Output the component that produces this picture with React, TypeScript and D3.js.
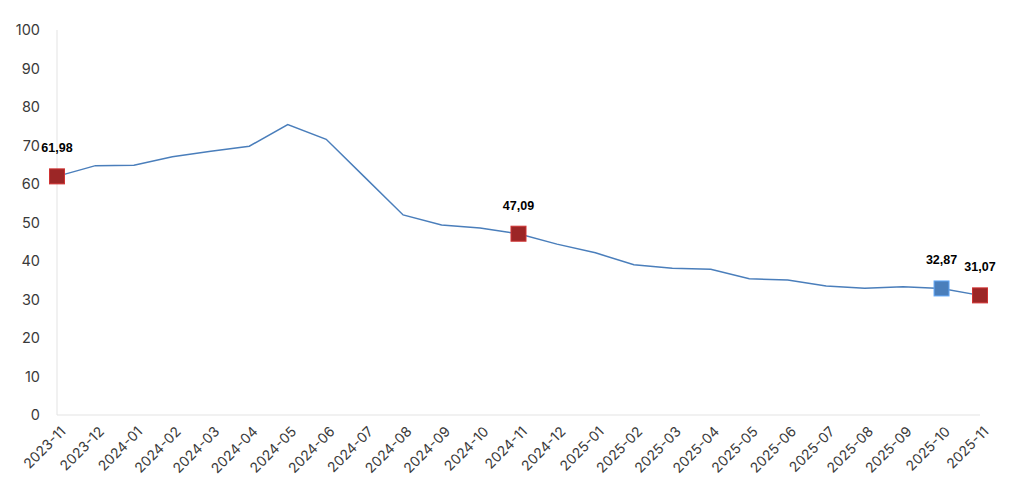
import { useEffect, useRef } from "react";
import * as d3 from "d3";

const months = [
  "2023-11", "2023-12", "2024-01", "2024-02", "2024-03", "2024-04", "2024-05",
  "2024-06", "2024-07", "2024-08", "2024-09", "2024-10", "2024-11", "2024-12",
  "2025-01", "2025-02", "2025-03", "2025-04", "2025-05", "2025-06", "2025-07",
  "2025-08", "2025-09", "2025-10", "2025-11",
];
const values = [
  61.98, 64.77, 64.86, 67.07, 68.5, 69.8, 75.45, 71.6, 61.78, 51.97, 49.38,
  48.58, 47.09, 44.38, 42.12, 39.05, 38.1, 37.86, 35.41, 35.05, 33.52, 32.95,
  33.29, 32.87, 31.07,
];
const yTicks = [0, 10, 20, 30, 40, 50, 60, 70, 80, 90, 100];
// highlighted months and the marker colour of each
const highlights = [
  { month: "2023-11", color: "#9c2626" },
  { month: "2024-11", color: "#9c2626" },
  { month: "2025-10", color: "#4a7ebb" },
  { month: "2025-11", color: "#9c2626" },
];

export default function App() {
  const svgRef = useRef<SVGSVGElement>(null);

  useEffect(() => {
    if (!svgRef.current) return;
    const svg = d3.select(svgRef.current);
    svg.selectAll("*").remove();

    const width = 1024;
    const height = 497;
    const margin = { top: 30, right: 44, bottom: 82, left: 57 };
    const chartW = width - margin.left - margin.right;
    const chartH = height - margin.top - margin.bottom;

    const x = d3.scalePoint().domain(months).range([0, chartW]);
    const y = d3.scaleLinear().domain([0, 100]).range([chartH, 0]);

    const g = svg
      .append("g")
      .attr("transform", `translate(${margin.left},${margin.top})`);

    // axis lines
    g.append("line")
      .attr("x1", 0).attr("x2", 0)
      .attr("y1", 0).attr("y2", chartH)
      .attr("stroke", "#e3e3e3").attr("stroke-width", 1);
    g.append("line")
      .attr("x1", 0).attr("x2", chartW)
      .attr("y1", chartH).attr("y2", chartH)
      .attr("stroke", "#e3e3e3").attr("stroke-width", 1.2);

    // y tick labels
    g.selectAll(".y-label")
      .data(yTicks)
      .join("text")
      .attr("x", -17)
      .attr("y", (d) => y(d))
      .attr("dy", "0.35em")
      .attr("text-anchor", "end")
      .attr("fill", "#3a3a3a")
      .attr("font-size", "14.5px")
      .attr("font-family", "Inter, 'Noto Sans', sans-serif")
      .text((d) => d);

    // x tick labels
    g.selectAll(".x-label")
      .data(months)
      .join("text")
      .attr("transform", (d) => `translate(${x(d)! + 6},${chartH + 14}) rotate(-45)`)
      .attr("text-anchor", "end")
      .attr("dy", "0.35em")
      .attr("fill", "#3a3a3a")
      .attr("font-size", "14px")
      .attr("font-family", "Inter, 'Noto Sans', sans-serif")
      .text((d) => d);

    // line
    const line = d3
      .line<number>()
      .x((_, i) => x(months[i])!)
      .y((d) => y(d));
    g.append("path")
      .datum(values)
      .attr("d", line)
      .attr("fill", "none")
      .attr("stroke", "#4a7ebb")
      .attr("stroke-width", 1.5);

    // markers
    const size = 15;
    g.selectAll(".marker")
      .data(highlights)
      .join("rect")
      .attr("x", (d) => x(d.month)! - size / 2)
      .attr("y", (d) => y(values[months.indexOf(d.month)]) - size / 2)
      .attr("width", size)
      .attr("height", size)
      .attr("fill", (d) => d.color)
      .attr("stroke", (d) => d3.color(d.color)!.brighter(0.8).toString())
      .attr("stroke-width", 1);

    // value labels
    g.selectAll(".val-label")
      .data(highlights)
      .join("text")
      .attr("x", (d) => x(d.month)!)
      .attr("y", (d) => y(values[months.indexOf(d.month)]) - 24)
      .attr("text-anchor", "middle")
      .attr("fill", "#000")
      .attr("font-size", "12.5px")
      .attr("font-weight", "700")
      .attr("font-family", "'Liberation Sans', Arial, sans-serif")
      .text((d) => values[months.indexOf(d.month)].toFixed(2).replace(".", ","));
  }, []);

  return (
    <div style={{ position: "fixed", top: 0, left: 0 }}>
      <svg
        ref={svgRef}
        width={1024}
        height={497}
        style={{ display: "block", background: "#fff" }}
        role="img"
        aria-label="Monthly line chart from 2023-11 to 2025-11"
      />
    </div>
  );
}
